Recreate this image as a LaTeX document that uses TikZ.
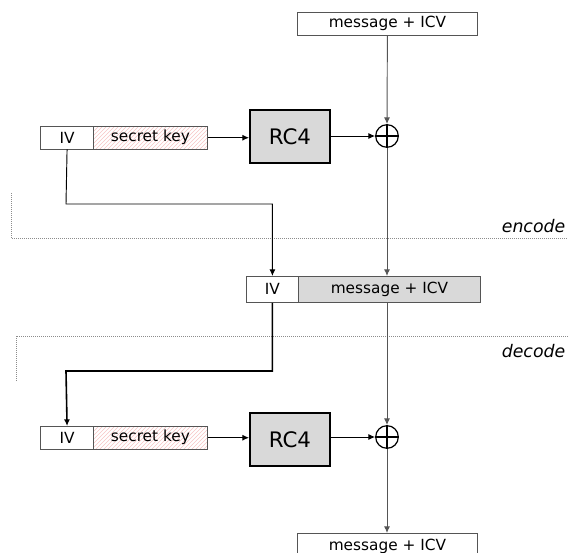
\documentclass[tikz,border=0pt]{standalone}
\usepackage{fontspec}
\setmainfont{DejaVu Sans}
\usepackage{tikz}
\usetikzlibrary{arrows.meta,positioning,calc,patterns}
\definecolor{boxline}{HTML}{555555}
\definecolor{lightfill}{HTML}{D9D9D9}
\definecolor{hatch}{HTML}{F6C4C4}
\definecolor{sepline}{HTML}{8C8C8C}

\tikzset{
  field/.style={draw=boxline, line width=0.6pt, minimum height=17pt, inner sep=0pt, anchor=north west, font=\fontsize{11.5}{13}\selectfont},
  keyfield/.style={field, pattern=north east lines, pattern color=hatch},
  cipher/.style={draw=black, line width=1.4pt, fill=lightfill, minimum width=60pt, minimum height=40pt, anchor=north west, font=\fontsize{16}{18}\selectfont},
  xorop/.style={circle, draw=black, line width=0.9pt, minimum size=17pt, inner sep=0pt},
  arr/.style={-{Latex[length=5pt,width=4.5pt]}, line width=0.7pt},
  sep/.style={sepline, densely dotted, line width=0.5pt},
  stage/.style={anchor=base east, font=\fontsize{13}{15}\selectfont\itshape}
}

\begin{document}
\begin{tikzpicture}[x=0.75pt, y=-0.75pt]
  \clip (0,0) rectangle (568,553);
  \useasboundingbox (0,0) rectangle (568,553);

  % encoder side
  \node[field, minimum width=135pt] (msgtop) at (297,12) {message + ICV};
  \node[field, minimum width=40pt] (iv1) at (40,126) {IV};
  \node[keyfield, minimum width=85.5pt] (key1) at (93,126) {secret key};
  \node[cipher] (rc4a) at (249,109) {RC4};
  \node[xorop] (xor1) at (387,136) {};
  \draw[line width=0.9pt] (xor1.north) -- (xor1.south) (xor1.west) -- (xor1.east);

  % transmitted frame
  \node[field, minimum height=19.5pt, minimum width=39pt] (iv2) at (246,276) {IV};
  \node[field, minimum height=19.5pt, fill=lightfill, minimum width=136.5pt] (msg2) at (298,276) {message + ICV};

  % decoder side
  \node[field, minimum width=40pt] (iv3) at (40,426) {IV};
  \node[keyfield, minimum width=85.5pt] (key3) at (93,426) {secret key};
  \node[cipher] (rc4b) at (249,412) {RC4};
  \node[xorop] (xor2) at (387,437) {};
  \draw[line width=0.9pt] (xor2.north) -- (xor2.south) (xor2.west) -- (xor2.east);
  \node[field, minimum height=19.5pt, minimum width=135pt] (msgbot) at (297,533) {message + ICV};

  % separators
  \draw[sep] (11,193) -- (11,238) -- (568,238);
  \draw[sep] (16,381) -- (16,336) -- (568,336);
  \node[stage] (enc) at (570,232) {encode};
  \node[stage] (dec) at (570,357) {decode};

  % connectors
  \coordinate (bend1) at (66,204);
  \coordinate (bend2) at (66,371);
  \draw[arr, boxline] (msgtop.south) -- (xor1.north);
  \draw[arr] (key1.east) -- (key1.east -| rc4a.west);
  \draw[arr] (rc4a.east |- xor1) -- (xor1.west);
  \draw[arr] (iv1.south) -- (bend1) -| (iv2.north);
  \draw[arr, boxline] (xor1.south) -- (xor1.south |- msg2.north);
  \draw[arr, line width=1.2pt] (iv2.south) |- (bend2) -- (iv3.north);
  \draw[arr, boxline] (xor1.south |- msg2.south) -- (xor2.north);
  \draw[arr] (key3.east) -- (key3.east -| rc4b.west);
  \draw[arr] (rc4b.east |- xor2) -- (xor2.west);
  \draw[arr, boxline] (xor2.south) -- (xor2.south |- msgbot.north);
\end{tikzpicture}
\end{document}
